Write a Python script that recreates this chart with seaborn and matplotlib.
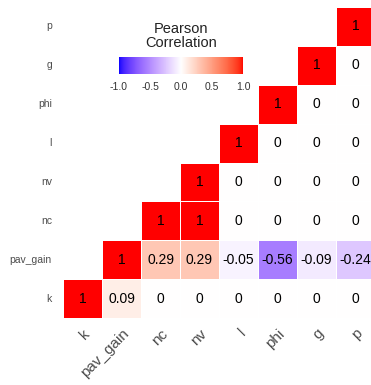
import numpy as np
import pandas as pd
import matplotlib
matplotlib.use("Agg")
from matplotlib import pyplot as plt
from matplotlib.colors import ListedColormap
import seaborn as sns

# 変数名 (下から上 / 左から右)
var_names = ["k", "pav_gain", "nc", "nv", "l", "phi", "g", "p"]

# 上三角の相関係数 (各行は自分自身から右へ)
corr_k = [1, 0.09, 0, 0, 0, 0, 0, 0]
corr_pav_gain = [1, 0.29, 0.29, -0.05, -0.56, -0.09, -0.24]
corr_nc = [1, 1, 0, 0, 0, 0]
corr_nv = [1, 0, 0, 0, 0]
corr_l = [1, 0, 0, 0]
corr_phi = [1, 0, 0]
corr_g = [1, 0]
corr_p = [1]

cbar_ticks = [-1.0, -0.5, 0.0, 0.5, 1.0]
cbar_title = "Pearson\nCorrelation"


# ggplot の gradient2 っぽく Lab 空間で補間する
M = np.array([[0.4124, 0.3576, 0.1805],
              [0.2126, 0.7152, 0.0722],
              [0.0193, 0.1192, 0.9505]])
WHITE = np.array([0.95047, 1.0, 1.08883])


def to_lab(rgb):
    rgb = np.asarray(rgb, float)
    lin = np.where(rgb <= 0.04045, rgb / 12.92, ((rgb + 0.055) / 1.055) ** 2.4)
    xyz = M @ lin / WHITE
    f = np.where(xyz > 0.008856, np.cbrt(xyz), 7.787 * xyz + 16 / 116)
    return np.array([116 * f[1] - 16, 500 * (f[0] - f[1]), 200 * (f[1] - f[2])])


def from_lab(lab):
    fy = (lab[0] + 16) / 116
    f = np.array([fy + lab[1] / 500, fy, fy - lab[2] / 200])
    xyz = np.where(f ** 3 > 0.008856, f ** 3, (f - 16 / 116) / 7.787) * WHITE
    lin = np.clip(np.linalg.inv(M) @ xyz, 0, 1)
    return np.where(lin <= 0.0031308, 12.92 * lin, 1.055 * lin ** (1 / 2.4) - 0.055).clip(0, 1)


lab_low, lab_mid, lab_high = to_lab([0, 0, 1]), to_lab([1, 1, 1]), to_lab([1, 0, 0])
colors = []
for t in np.linspace(-1, 1, 256):
    if t < 0:
        colors.append(from_lab(lab_mid + (lab_low - lab_mid) * (-t)))
    else:
        colors.append(from_lab(lab_mid + (lab_high - lab_mid) * t))
cmap = ListedColormap(colors)

# 行列を組み立てる
rows = [corr_k, corr_pav_gain, corr_nc, corr_nv, corr_l, corr_phi, corr_g, corr_p]
n = len(var_names)
mat = np.full((n, n), np.nan)
for i, r in enumerate(rows):
    mat[i, i:] = r
df = pd.DataFrame(mat, index=var_names, columns=var_names).iloc[::-1]


def fmt(v):
    if np.isnan(v):
        return ""
    if float(v).is_integer():
        return "%d" % v
    return "%.2f" % v


labels = np.vectorize(fmt)(df.values)

sns.set_theme(style="white")
plt.rcParams["font.family"] = ["Liberation Sans", "DejaVu Sans"]

fig = plt.figure(figsize=(3.71, 3.85), dpi=100)
ax = fig.add_axes([63 / 371, 1 - 318 / 385, 312 / 371, 311 / 385])
cax = fig.add_axes([119 / 371, 1 - 74 / 385, 124 / 371, 17 / 385])

sns.heatmap(df, ax=ax, cmap=cmap, vmin=-1, vmax=1, annot=labels, fmt="",
            annot_kws={"fontsize": 10, "color": "black"},
            linewidths=0.6, linecolor="white", cbar=False, square=False)

ax.tick_params(length=0)
ax.tick_params(axis="y", pad=8, labelsize=7.5, labelcolor="#4d4d4d")
ax.tick_params(axis="x", pad=6, labelsize=11, labelcolor="#4d4d4d")
plt.setp(ax.get_yticklabels(), rotation=0)
plt.setp(ax.get_xticklabels(), rotation=45, ha="right", va="top", rotation_mode="anchor")
ax.set_xlabel("")
ax.set_ylabel("")

cb = fig.colorbar(ax.collections[0], cax=cax, orientation="horizontal", ticks=cbar_ticks)
cb.outline.set_visible(False)
cb.ax.set_xticklabels(["%.1f" % t for t in cbar_ticks])
cb.ax.tick_params(direction="in", length=3, color="white", labelsize=7.5, pad=6, labelcolor="#333333")
cb.ax.set_title(cbar_title, fontsize=10.5, pad=7, color="#222222", linespacing=1.05)

plt.savefig("out.png", dpi=100)
